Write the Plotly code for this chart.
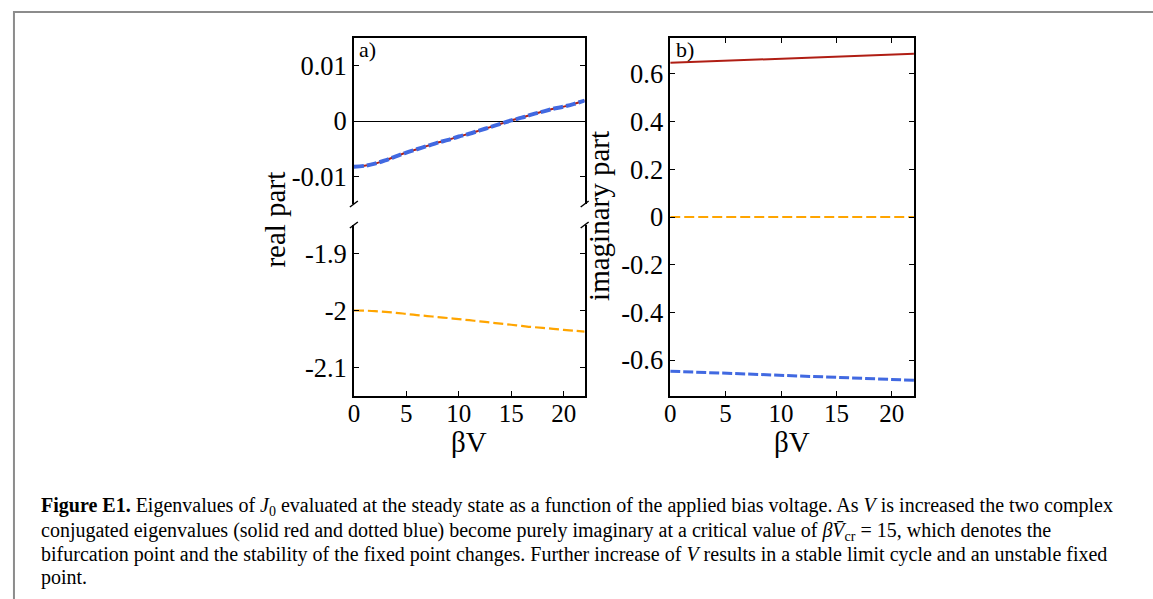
import plotly.graph_objects as go

# ---------------- data ----------------
bv = [0, 1, 2, 3, 4, 5, 6, 7, 8, 9, 10, 11, 12, 13, 14, 15, 16, 17, 18, 19, 20, 21, 22]
real_pair = [-0.00826, -0.0081, -0.0077, -0.0071, -0.0064, -0.0057, -0.0051, -0.0045,
             -0.0039, -0.0034, -0.0028, -0.0023, -0.0017, -0.0011, -0.0005, 0.0001,
             0.0006, 0.0012, 0.0017, 0.0022, 0.0026, 0.0031, 0.0037]
real_third = [-2.000, -2.0003, -2.001, -2.0025, -2.004, -2.006, -2.008, -2.0097,
              -2.0115, -2.0133, -2.0151, -2.017, -2.019, -2.021, -2.023, -2.025,
              -2.027, -2.029, -2.0305, -2.0322, -2.034, -2.0355, -2.037]

bv_b = [0, 2, 4, 6, 8, 10, 12, 14, 16, 18, 20, 22]
imag_red = [0.646, 0.6495, 0.653, 0.6565, 0.660, 0.6635, 0.667, 0.6705, 0.674, 0.6775, 0.681, 0.684]
imag_blue = [-0.646, -0.6495, -0.653, -0.6565, -0.660, -0.6635, -0.667, -0.6705, -0.674, -0.6775, -0.681, -0.684]
imag_orange = [0, 0, 0, 0, 0, 0, 0, 0, 0, 0, 0, 0]

x_ticks = [0, 5, 10, 15, 20]
x_ticktext = ["0", "5", "10", "15", "20"]
a_top_ticks = [0.01, 0, -0.01]
a_top_ticktext = ["0.01", "0", "-0.01"]
a_bot_ticks = [-1.9, -2.0, -2.1]
a_bot_ticktext = ["-1.9", "-2", "-2.1"]
b_ticks = [0.6, 0.4, 0.2, 0, -0.2, -0.4, -0.6]
b_ticktext = ["0.6", "0.4", "0.2", "0", "-0.2", "-0.4", "-0.6"]

caption_lines = [
    "<b>Figure E1.</b> Eigenvalues of <i>J</i><sub>0</sub> evaluated at the steady state as a function of the applied bias voltage. As <i>V</i> is increased the two complex",
    "conjugated eigenvalues (solid red and dotted blue) become purely imaginary at a critical value of <i>βV̄</i><sub>cr</sub> = 15, which denotes the",
    "bifurcation point and the stability of the fixed point changes. Further increase of <i>V</i> results in a stable limit cycle and an unstable fixed",
    "point.",
]

# ---------------- styles ----------------
W, H = 1153, 599
RED = "#B01E14"
BLUE = "#4169E1"
ORANGE = "#FFA500"
SERIF = "Liberation Serif, Times New Roman, serif"


def px(x):
    return x / W


def py(y):
    return 1 - y / H


fig = go.Figure()

# panel a top (real part, near zero)
fig.add_trace(go.Scatter(x=bv, y=real_pair, xaxis="x2", yaxis="y2", mode="lines",
                         line=dict(color=RED, width=2, shape="spline"), showlegend=False))
fig.add_trace(go.Scatter(x=bv, y=real_pair, xaxis="x2", yaxis="y2", mode="lines",
                         line=dict(color=BLUE, width=4, dash="10px,3px", shape="spline"),
                         showlegend=False))
# panel a bottom
fig.add_trace(go.Scatter(x=bv, y=real_third, xaxis="x", yaxis="y", mode="lines",
                         line=dict(color=ORANGE, width=2.2, dash="10px,4px", shape="spline"),
                         showlegend=False))
# panel b
fig.add_trace(go.Scatter(x=bv_b, y=imag_red, xaxis="x3", yaxis="y3", mode="lines",
                         line=dict(color=RED, width=2), showlegend=False))
fig.add_trace(go.Scatter(x=bv_b, y=imag_orange, xaxis="x3", yaxis="y3", mode="lines",
                         line=dict(color=ORANGE, width=2.2, dash="10px,4px"), showlegend=False))
fig.add_trace(go.Scatter(x=bv_b, y=imag_blue, xaxis="x3", yaxis="y3", mode="lines",
                         line=dict(color=BLUE, width=3, dash="10px,3px"), showlegend=False))

xtickfont = dict(family=SERIF, size=25, color="black")
ytickfont = dict(family=SERIF, size=26.5, color="black")
axis_common = dict(showgrid=False, showline=True, linecolor="black",
                   linewidth=1.5, ticklen=5, tickwidth=1.2, tickcolor="black")

a_x = [px(349.7), px(581.7)]
b_x = [px(667.7), px(912.7)]

fig.update_layout(
    width=W, height=H,
    margin=dict(l=0, r=0, t=0, b=0),
    paper_bgcolor="white", plot_bgcolor="rgba(0,0,0,0)",
    xaxis=dict(**axis_common, zeroline=False, ticks="inside", tickfont=xtickfont,
               domain=a_x, anchor="y", range=[0, 22], ticklabelstandoff=-6,
               tickvals=x_ticks, ticktext=x_ticktext, mirror=False),
    yaxis=dict(**axis_common, zeroline=False, ticks="inside", tickfont=ytickfont,
               domain=[py(396), py(225)], anchor="x", range=[-2.15, -1.85],
               tickvals=a_bot_ticks, ticktext=a_bot_ticktext, mirror="ticks"),
    xaxis2=dict(**axis_common, zeroline=False, ticks="",
                domain=a_x, anchor="y2", side="top", range=[0, 22],
                showticklabels=False, mirror=False),
    yaxis2=dict(**axis_common, ticks="inside", tickfont=ytickfont,
                domain=[py(204), py(38)], anchor="x2", range=[-0.015, 0.015],
                tickvals=a_top_ticks, ticktext=a_top_ticktext, mirror="ticks",
                zeroline=True, zerolinecolor="black", zerolinewidth=1),
    xaxis3=dict(**axis_common, zeroline=False, ticks="inside", tickfont=xtickfont,
                domain=b_x, anchor="y3", range=[0, 22], ticklabelstandoff=-6,
                tickvals=x_ticks, ticktext=x_ticktext, mirror="ticks"),
    yaxis3=dict(**axis_common, zeroline=False, ticks="inside", tickfont=ytickfont,
                domain=[py(396), py(38)], anchor="x3", range=[-0.75, 0.75],
                tickvals=b_ticks, ticktext=b_ticktext, mirror="ticks"),
)

annotations = []
title_font = dict(family=SERIF, size=29, color="black")
# axis titles
annotations.append(dict(text="βV", x=px(465.7), y=py(442), xref="paper", yref="paper",
                        showarrow=False, font=title_font, xanchor="center", yanchor="middle"))
annotations.append(dict(text="βV", x=px(790), y=py(442), xref="paper", yref="paper",
                        showarrow=False, font=title_font, xanchor="center", yanchor="middle"))
annotations.append(dict(text="real part", x=px(270), y=py(220), xref="paper", yref="paper",
                        showarrow=False, textangle=-90, font=title_font,
                        xanchor="center", yanchor="middle"))
annotations.append(dict(text="imaginary part", x=px(596), y=py(216), xref="paper", yref="paper",
                        showarrow=False, textangle=-90, font=title_font,
                        xanchor="center", yanchor="middle"))
# panel labels
annotations.append(dict(text="a)", x=px(353), y=py(35), xref="paper", yref="paper",
                        showarrow=False, font=dict(family=SERIF, size=22, color="black"),
                        xanchor="left", yanchor="top"))
annotations.append(dict(text="b)", x=px(671), y=py(35), xref="paper", yref="paper",
                        showarrow=False, font=dict(family=SERIF, size=22, color="black"),
                        xanchor="left", yanchor="top"))
# caption
cap_y = [507, 531, 554, 577]
for line, yy in zip(caption_lines, cap_y):
    annotations.append(dict(text=line, x=px(33), y=py(yy), xref="paper", yref="paper",
                            showarrow=False, font=dict(family=SERIF, size=20, color="black"),
                            xanchor="left", yanchor="middle", align="left"))
fig.update_layout(annotations=annotations)

shapes = []
# outer frame
shapes.append(dict(type="rect", xref="paper", yref="paper", x0=px(8), x1=px(1200),
                   y0=py(700), y1=py(12), line=dict(color="#8c8c8c", width=2),
                   fillcolor="rgba(0,0,0,0)", layer="below"))
# axis break marks
for xx in (349.7, 581.7):
    for yy in (204, 225):
        shapes.append(dict(type="line", xref="paper", yref="paper",
                           x0=px(xx - 4), y0=py(yy + 3), x1=px(xx + 4), y1=py(yy - 3),
                           line=dict(color="black", width=1.5)))
fig.update_layout(shapes=shapes)

fig.write_html("out.html")
